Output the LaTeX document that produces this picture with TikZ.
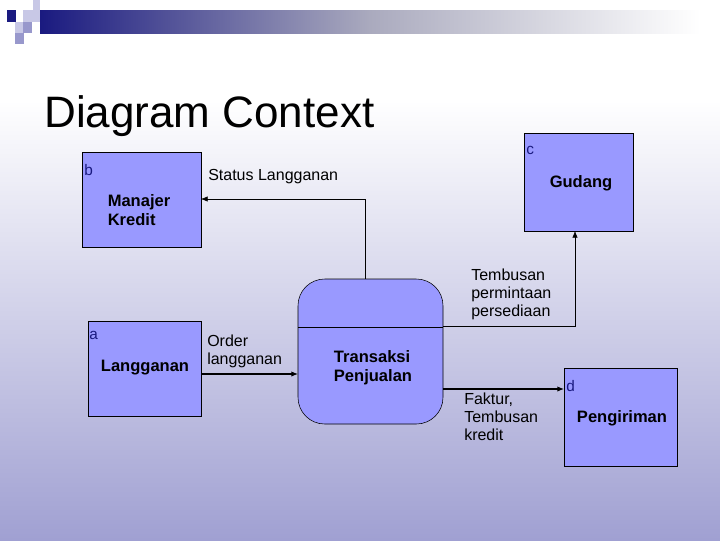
\documentclass[tikz,border=0pt]{standalone}
\usepackage{fontspec}
\setmainfont{Liberation Sans}
\usetikzlibrary{arrows.meta}
\definecolor{boxc}{HTML}{9999FF}
\definecolor{navy}{HTML}{1A1A80}
\definecolor{lav}{HTML}{A0A0D2}
\definecolor{sq1}{HTML}{C8C8E6}
\definecolor{sq2}{HTML}{9898CC}
\begin{document}
\begin{tikzpicture}[x=0.75pt,y=-0.75pt,
  ent/.style={draw=black,fill=boxc},
  lbl/.style={font=\fontsize{12}{13.5}\selectfont,align=left,anchor=north west,inner sep=0pt},
  ename/.style={font=\bfseries\fontsize{12.4}{14.5}\selectfont,align=left,inner sep=0pt},
  letter/.style={font=\fontsize{11.5}{12}\selectfont,text=navy,anchor=north west,inner sep=0pt},
  arr/.style={draw=black,line width=0.8pt,-{Latex[length=5pt,width=4pt]}}]
\useasboundingbox (0,0) rectangle (720,540);
\fill[white] (0,0) rectangle (720,101);
\shade[top color=white,bottom color=lav] (0,100) rectangle (720,540);
\shade[left color=navy,right color=white,middle color={rgb,255:red,170;green,170;blue,190}] (40,10) rectangle (700,33);
\fill[sq1] (33,0) rectangle (40,10);
\fill[sq1] (23,10) rectangle (40,22);
\fill[navy] (7,10) rectangle (16,22);
\fill[sq1] (15,22) rectangle (23,33);
\fill[sq2] (23,22) rectangle (32,33);
\fill[sq2] (15,33) rectangle (24,44);
\node[anchor=west,inner sep=0pt,font=\fontsize{33}{36}\selectfont] (title) at (44,116) {Diagram Context};
% entities
\draw[ent] (82,152) rectangle (201,247);
\coordinate (mk) at (201,199);
\node[letter] (lb) at (84,164) {b};
\node[ename] (mkt) at (139,210) {Manajer\\Kredit};
\draw[ent] (88,321) rectangle (201,416);
\node[letter] (la) at (89,331) {a};
\node[ename] (lgt) at (145,368) {Langganan};
\draw[ent] (524,133) rectangle (633,231);
\node[letter] (lc) at (526,146) {c};
\node[ename] (gdt) at (581,183) {Gudang};
\draw[ent] (564,368) rectangle (677,466);
\node[letter] (ld) at (566,380) {d};
\node[ename] (pgt) at (622,418) {Pengiriman};
% process
\draw[fill=boxc,rounded corners=20] (298,279) rectangle (443,424);
\draw (298,327) -- (443,327);
\node[ename] (tp) at (373,368) {Transaksi\\Penjualan};
\coordinate (ptop) at (365,279);
\coordinate (c1) at (365,199);
\coordinate (pr1) at (443,326);
\coordinate (c2) at (575,326);
\coordinate (gb) at (575,231);
\coordinate (lr) at (201,374);
\coordinate (pl) at (298,374);
\coordinate (pr2) at (443,389);
\coordinate (pgl) at (564,389);
\draw[-{Latex[length=5pt,width=4pt]}] (ptop) -- (c1) -- (mk);
\draw[-{Latex[length=5pt,width=4pt]}] (pr1) -- (c2) -- (gb);
\draw[arr] (lr) -- (pl);
\draw[arr] (pr2) -- (pgl);
\node[lbl] (s1) at (208,169) {Status Langganan};
\node[lbl] (s2) at (207,335) {Order\\langganan};
\node[lbl] (s3) at (471,269) {Tembusan\\permintaan\\persediaan};
\node[lbl] (s4) at (464,393) {Faktur,\\Tembusan\\kredit};
\end{tikzpicture}
\end{document}
